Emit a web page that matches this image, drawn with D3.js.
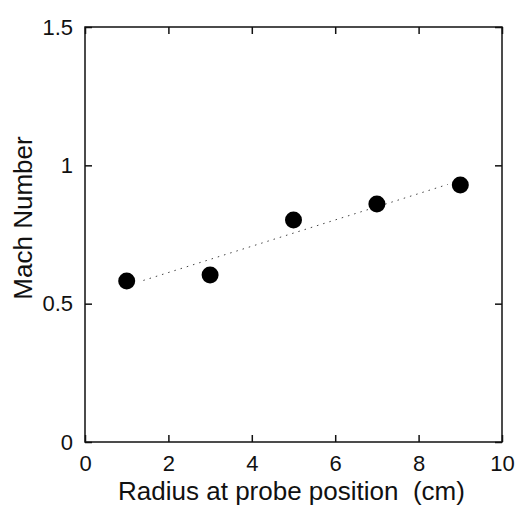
<!DOCTYPE html>
<html>
<head>
<meta charset="utf-8">
<script src="https://cdn.jsdelivr.net/npm/d3@7"></script>
<style>
body { margin: 0; background: white; }
svg { display: block; font-family: "Liberation Sans", Arial, sans-serif; }
</style>
</head>
<body>
<svg id="svg" width="519" height="508"></svg>
<script>
var radius = [1, 3, 5, 7, 9];
var mach = [0.582, 0.604, 0.802, 0.86, 0.929];
var fitX = [1.4, 8.7];
var fitY = [0.584, 0.931];
var xTicks = [0, 2, 4, 6, 8, 10];
var yTicks = [0, 0.5, 1, 1.5];
var yTickLabels = ['0', '0.5', '1', '1.5'];

var marginLeft = 85;
var marginTop = 27;
var plotW = 417;
var plotH = 415;

var svg = d3.select('svg')
    .append('g')
    .attr('transform', 'translate(' + marginLeft + ',' + marginTop + ')');

var x = d3.scaleLinear().domain([0, 10]).range([0, plotW]);
var y = d3.scaleLinear().domain([0, 1.5]).range([plotH, 0]);

// inward ticks on all four sides
svg.append('g')
    .attr('transform', 'translate(0,' + plotH + ')')
    .call(d3.axisBottom(x).tickValues(xTicks).tickSize(-7).tickPadding(13));
svg.append('g')
    .call(d3.axisTop(x).tickValues(xTicks).tickSize(-7).tickFormat(''));
svg.append('g')
    .call(d3.axisLeft(y).tickValues(yTicks).tickSize(-7).tickPadding(12)
        .tickFormat(function (d, i) { return yTickLabels[i]; }));
svg.append('g')
    .attr('transform', 'translate(' + plotW + ',0)')
    .call(d3.axisRight(y).tickValues(yTicks).tickSize(-7).tickFormat(''));

svg.selectAll('.domain').remove();
svg.selectAll('.tick line').attr('stroke', '#111').attr('stroke-width', 1.5);
svg.selectAll('.tick text')
    .attr('font-size', 22)
    .attr('font-family', '"Liberation Sans", Arial, sans-serif')
    .attr('fill', '#111');

svg.append('rect')
    .attr('x', 0)
    .attr('y', 0)
    .attr('width', plotW)
    .attr('height', plotH)
    .attr('fill', 'none')
    .attr('stroke', '#111')
    .attr('stroke-width', 1.5);

// dotted fit line
svg.append('path')
    .datum(d3.zip(fitX, fitY))
    .attr('d', d3.line().x(function (d) { return x(d[0]); }).y(function (d) { return y(d[1]); }))
    .attr('fill', 'none')
    .attr('stroke', '#444')
    .attr('stroke-width', 1)
    .attr('stroke-dasharray', '1.5,5');

svg.selectAll('circle')
    .data(d3.zip(radius, mach))
    .enter()
    .append('circle')
    .attr('cx', function (d) { return x(d[0]); })
    .attr('cy', function (d) { return y(d[1]); })
    .attr('r', 8.5)
    .attr('fill', '#000');

svg.append('text')
    .text('Radius at probe position\u00a0\u00a0(cm)')
    .attr('x', plotW / 2 - 2)
    .attr('y', plotH + 58)
    .attr('text-anchor', 'middle')
    .attr('font-size', 26)
    .attr('fill', '#111');

svg.append('text')
    .text('Mach Number')
    .attr('transform', 'translate(-53,' + (191) + ') rotate(-90)')
    .attr('text-anchor', 'middle')
    .attr('font-size', 26)
    .attr('fill', '#111');
</script>
</body>
</html>
